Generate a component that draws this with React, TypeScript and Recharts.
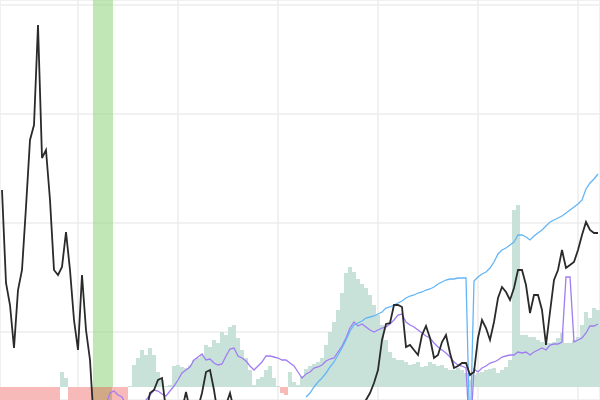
import {
  ComposedChart,
  Bar,
  Line,
  XAxis,
  YAxis,
  CartesianGrid,
  ReferenceArea,
  Cell,
} from "recharts";

// price line (black); very low values sit below the visible window
const PRICE = [
  251, 158, 136, 93, 151, 171, 234, 301, 316, 416,
  283, 291, 241, 171, 166, 174, 209, 171, 121, 91,
  166, 111, 81, 15, 8, 5, 12, 18, 10, 6,
  14, 20, 9, 12, 25, 30, 28, 48, 51, 61,
  63, 31, 16, 11, 16, 31, 49, 31, 21, 33,
  48, 69, 71, 51, 26, 21, 36, 48, 31, 20,
  12, 8, 15, 10, 5, 12, 18, 10, 6, 9,
  14, 11, 7, 4, 9, 13, 6, 10, 15, 12,
  8, 5, 9, 14, 18, 12, 8, 15, 20, 24,
  30, 41, 48, 58, 71, 101, 117, 118, 136, 136,
  134, 94, 96, 91, 86, 106, 115, 103, 83, 86,
  99, 106, 88, 73, 75, 78, 78, 66, 69, 103,
  121, 113, 101, 119, 143, 154, 149, 141, 153, 171,
  171, 156, 128, 146, 146, 131, 96, 129, 161, 171,
  191, 173, 176, 179, 191, 206, 219, 211, 208, 208,
];

// upper band (blue)
const UPPER: (number | null)[] = [
  ...Array(76).fill(null),
  44, 48, 54, 59,
  63, 68, 74, 79, 86, 93, 101, 110, 116, 118,
  120, 123, 124, 125, 127, 129, 133, 134, 136, 138,
  140, 143, 145, 146, 148, 149, 151, 152, 154, 157,
  159, 161, 162, 162, 163, 163, 163, 0, 160, 164,
  167, 169, 173, 179, 187, 191, 193, 196, 199, 206,
  206, 204, 201, 205, 208, 211, 215, 219, 221, 223,
  225, 228, 231, 234, 237, 241, 252, 258, 262, 267,
];

// signal line (purple)
const SIGNAL: (number | null)[] = [
  ...Array(26).fill(null),
  36, 48, 50, 46,
  44, 36, 31, 31, 33, 37, 41, 46, 51, 50,
  47, 45, 50, 55, 61, 68, 71, 74, 81, 84,
  87, 81, 82, 78, 76, 77, 85, 92, 93, 85,
  83, 80, 75, 71, 75, 79, 85, 85, 84, 83,
  81, 81, 78, 75, 69, 63, 67, 69, 73, 74,
  76, 80, 82, 83, 89, 95, 103, 113, 119, 115,
  117, 114, 111, 109, 111, 113, 114, 117, 121, 126,
  127, 119, 116, 114, 111, 108, 105, 103, 98, 94,
  91, 88, 84, 79, 76, 75, 73, 0, 72, 69,
  73, 75, 78, 79, 81, 84, 85, 86, 86, 89,
  88, 89, 86, 89, 91, 93, 91, 96, 97, 97,
  99, 164, 164, 99, 101, 103, 108, 115, 115, 117,
];

// histogram, negative = red
const HIST = [
  -20, -20, -20, -20, -20, -20, -20, -20, -20, -20,
  -20, -20, -20, -20, -20, 15, 9, -20, -20, -20,
  -20, -20, -20, -20, -20, -20, -20, -20, -20, -20,
  -20, -20, 1, 22, 29, 37, 32, 39, 32, 15,
  7, 1, 2, 21, 22, 20, 19, 22, 27, 29,
  32, 42, 40, 47, 44, 55, 52, 60, 62, 49,
  37, 29, 17, 2, 8, 10, 17, 21, 9, 1,
  -6, -8, 15, 5, 2, 11, 18, 21, 23, 25,
  29, 42, 55, 65, 77, 94, 114, 120, 115, 108,
  103, 99, 92, 82, 72, 62, 47, 35, 29, 27,
  27, 25, 22, 23, 25, 20, 21, 25, 23, 21,
  22, 19, 17, 17, 19, 17, 14, 7, 12, 14,
  15, 17, 18, 19, 14, 17, 20, 27, 177, 182,
  52, 52, 50, 50, 47, 45, 44, 44, 45, 49,
  54, 44, 44, 47, 50, 62, 75, 69, 79, 77,
];

const X_TICKS = [19, 44, 69, 94, 119, 144];
const Y_TICKS = [109, 218, 327, 436];
const BAND = [22.75, 27.75];
// the band stops at the histogram's zero line (54 on the price axis)
const BAND_Y = [54, 441];

const data = PRICE.map((p, i) => ({
  t: i,
  price: p,
  upper: UPPER[i],
  signal: SIGNAL[i],
  hist: HIST[i],
}));

function barColor(t: number, v: number) {
  if (v >= 0) return "#c8e2da";
  // red bars under the highlight band look brown
  if (t > BAND[0] && t < BAND[1]) return "#d1a987";
  return "#f8bab9";
}

export default function App() {
  return (
    <div style={{ width: 600, height: 400 }}>
      <style>{`body{margin:0}`}</style>
      <ComposedChart
        width={600}
        height={400}
        data={data}
        barCategoryGap={0}
        barGap={0}
        margin={{ top: 0, right: 0, bottom: 0, left: 0 }}
      >
        <XAxis dataKey="t" type="number" domain={[-0.5, 149.5]} ticks={X_TICKS} hide />
        <YAxis yAxisId="p" domain={[41, 441]} ticks={Y_TICKS} allowDataOverflow hide />
        <YAxis yAxisId="h" domain={[-13, 387]} allowDataOverflow hide />
        <CartesianGrid yAxisId="p" stroke="#ededed" strokeWidth={1.5} />
        <Bar yAxisId="h" dataKey="hist" isAnimationActive={false}>
          {data.map((d, i) => (
            <Cell key={`c-${i}`} fill={barColor(d.t, d.hist)} />
          ))}
        </Bar>
        <ReferenceArea
          yAxisId="p"
          x1={BAND[0]}
          x2={BAND[1]}
          y1={BAND_Y[0]}
          y2={BAND_Y[1]}
          fill="#8fd47a"
          fillOpacity={0.55}
          stroke="none"
          ifOverflow="visible"
        />
        <Line
          yAxisId="p"
          dataKey="signal"
          stroke="#a07cf2"
          strokeWidth={1.3}
          dot={false}
          activeDot={false}
          isAnimationActive={false}
        />
        <Line
          yAxisId="p"
          dataKey="upper"
          stroke="#64b5f6"
          strokeWidth={1.3}
          dot={false}
          activeDot={false}
          isAnimationActive={false}
        />
        <Line
          yAxisId="p"
          dataKey="price"
          stroke="#2a2a2a"
          strokeWidth={1.8}
          dot={false}
          activeDot={false}
          isAnimationActive={false}
        />
      </ComposedChart>
    </div>
  );
}
